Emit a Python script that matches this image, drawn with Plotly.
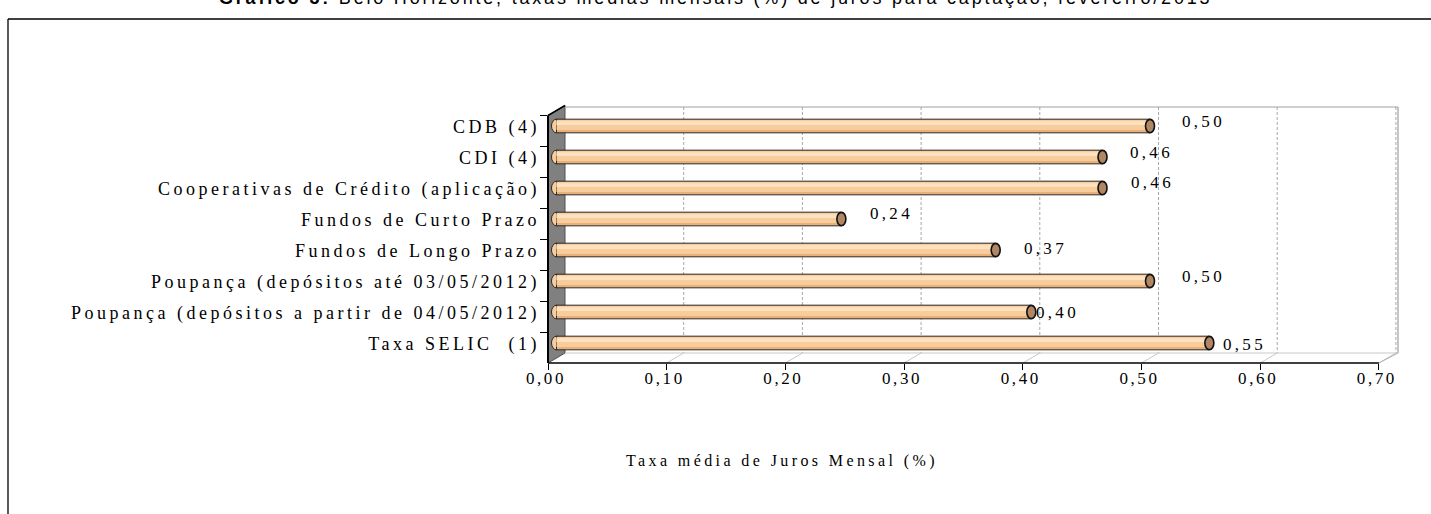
import plotly.graph_objects as go

# ---------------- data ----------------
categories = [
    "CDB (4)",
    "CDI (4)",
    "Cooperativas de Crédito (aplicação)",
    "Fundos de Curto Prazo",
    "Fundos de Longo Prazo",
    "Poupança (depósitos até 03/05/2012)",
    "Poupança (depósitos a partir de 04/05/2012)",
    "Taxa SELIC  (1)",
]
values = [0.50, 0.46, 0.46, 0.24, 0.37, 0.50, 0.40, 0.55]
value_labels = ["0,50", "0,46", "0,46", "0,24", "0,37", "0,50", "0,40", "0,55"]
x_ticks = [0.0, 0.1, 0.2, 0.3, 0.4, 0.5, 0.6, 0.7]
x_tick_labels = ["0,00", "0,10", "0,20", "0,30", "0,40", "0,50", "0,60", "0,70"]
title_bold = "Gráfico 3:"
title_rest = "Belo Horizonte, taxas médias mensais (%) de juros para captação, fevereiro/2013"
axis_title = "Taxa média de Juros Mensal (%)"

# ---------------- style / geometry ----------------
label_dx = [30, 25, 26, 27, 26, 30, 3, 12]   # px offsets of value labels (style)
label_dy = [5, 5, 6, 6, 2, 5, 0, -1]

W, H = 1431, 514
S = 1187.0            # px per unit on x
FX, FY = 548.0, 363.0  # front origin (x px, floor y px)
DX, DY = 17.0, -10.0   # depth offset front->back
ROW = 31.0             # px per category
TOP = 107.0            # top of back wall
RIGHT = 1398.0
MIDX = FX + DX / 2
BOTTOM_ROW_MID = 343.0
BOTTOM_ROW_FRONT = BOTTOM_ROW_MID - DY / 2

SERIF = "Liberation Serif, Times New Roman, serif"
SANS = "Liberation Sans, Arial, sans-serif"

BAR_DARK = "#E9B17A"
BAR_MID = "#F8CD9B"
BAR_LIGHT = "#FDE2C2"
CAP = "#B08762"


def sp(t, ls=3.3):
    return f'<span style="letter-spacing:{ls}px">{t}</span>'


def X(p):
    return p / W


def Y(p):
    return 1 - p / H


order = categories[::-1]  # bottom -> top

fig = go.Figure()

# invisible trace to populate the front category axis
fig.add_trace(go.Scatter(x=values, y=categories, mode="markers",
                         marker=dict(opacity=0), hoverinfo="skip",
                         showlegend=False, xaxis="x", yaxis="y"))

# cylinder bars (layered bars for shading)
fig.add_trace(go.Bar(x=values, y=categories, orientation="h", xaxis="x2", yaxis="y2",
                     width=0.44, offset=-0.22, base=0,
                     marker=dict(color=BAR_DARK, line=dict(color="#2a2a2a", width=1)),
                     showlegend=False, hoverinfo="skip"))
fig.add_trace(go.Bar(x=values, y=categories, orientation="h", xaxis="x2", yaxis="y2",
                     width=0.32, offset=-0.13, base=0,
                     marker=dict(color=BAR_MID, line=dict(width=0)),
                     showlegend=False, hoverinfo="skip"))
fig.add_trace(go.Bar(x=values, y=categories, orientation="h", xaxis="x2", yaxis="y2",
                     width=0.12, offset=0.03, base=0,
                     marker=dict(color=BAR_LIGHT, line=dict(width=0)),
                     showlegend=False, hoverinfo="skip"))

shapes = []


def line_shape(x0, y0, x1, y1, color, width, dash="solid", layer="below"):
    return dict(type="line", xref="paper", yref="paper", x0=X(x0), y0=Y(y0), x1=X(x1), y1=Y(y1),
                line=dict(color=color, width=width, dash=dash), layer=layer)


# left wall
front_top = BOTTOM_ROW_FRONT - ROW * (len(categories) - 0.5)
shapes.append(dict(type="path", xref="paper", yref="paper",
                   path=f"M {X(FX)},{Y(front_top)} L {X(FX+DX)},{Y(front_top+DY)} "
                        f"L {X(FX+DX)},{Y(FY+DY)} L {X(FX)},{Y(FY)} Z",
                   fillcolor="#808080", line=dict(color="#505050", width=1), layer="below"))
# back wall gridlines
for v in x_ticks[1:]:
    px = FX + DX + v * S
    shapes.append(line_shape(px, TOP, px, FY + DY, "#A8A8A8", 1, "3px,2px"))
# back wall edges
shapes.append(line_shape(FX + DX, TOP, RIGHT, TOP, "#A0A0A0", 1.2))
shapes.append(line_shape(RIGHT, TOP, RIGHT, FY + DY, "#A0A0A0", 1.2))
# floor
shapes.append(line_shape(FX + DX, FY + DY, RIGHT, FY + DY, "#C8C8C8", 1))
for v in x_ticks[1:]:
    px = FX + v * S
    shapes.append(line_shape(px, FY, px + DX, FY + DY, "#C8C8C8", 1))
xend = FX + x_ticks[-1] * S
shapes.append(line_shape(xend, FY, RIGHT, FY + DY, "#B0B0B0", 1))
# front axis lines
shapes.append(line_shape(FX, FY, xend, FY, "#000000", 1.5, layer="above"))
shapes.append(line_shape(FX, front_top, FX, FY, "#000000", 2, layer="above"))
shapes.append(line_shape(FX, front_top, FX + DX, front_top + DY, "#000000", 1.5, layer="above"))
# outer frame
shapes.append(line_shape(8, 19, W, 19, "#000000", 1.3, layer="above"))
shapes.append(line_shape(8, 19, 8, H, "#000000", 1.3, layer="above"))

# bar end caps
cap_w = 5.0 / S
for cat, v in zip(categories, values):
    k = order.index(cat)
    shapes.append(dict(type="circle", xref="x2", yref="y2",
                       x0=-cap_w, x1=cap_w, y0=k - 0.22, y1=k + 0.22,
                       fillcolor=BAR_MID, line=dict(color="#2a2a2a", width=1), layer="below"))
    shapes.append(dict(type="circle", xref="x2", yref="y2",
                       x0=v - 4.5 / S, x1=v + 4.5 / S, y0=k - 0.215, y1=k + 0.215,
                       fillcolor=CAP, line=dict(color="#111111", width=1.6), layer="above"))

annotations = []
for cat, v, lab, dx, dy in zip(categories, values, value_labels, label_dx, label_dy):
    annotations.append(dict(x=v, y=cat, xref="x2", yref="y2", text=sp(lab, 3.3),
                            showarrow=False, xanchor="left", yanchor="middle",
                            xshift=dx, yshift=dy,
                            font=dict(family=SERIF, size=17, color="#000000")))
annotations.append(dict(x=X(782), y=Y(461), xref="paper", yref="paper",
                        text=sp(axis_title, 3.4), showarrow=False,
                        xanchor="center", yanchor="middle",
                        font=dict(family=SERIF, size=16, color="#000000")))
annotations.append(dict(x=X(715), y=Y(10), xref="paper", yref="paper",
                        text=sp(f"<b>{title_bold}</b> {title_rest}", 2.8), showarrow=False,
                        xanchor="center", yanchor="bottom",
                        font=dict(family=SANS, size=18, color="#000000")))

xdom = [X(FX), X(RIGHT)]
ydom = [Y(FY), Y(TOP)]

fig.update_layout(
    template="none",
    width=W, height=H, autosize=False,
    margin=dict(l=0, r=0, t=0, b=0),
    paper_bgcolor="white", plot_bgcolor="rgba(0,0,0,0)",
    barmode="overlay", showlegend=False,
    shapes=shapes, annotations=annotations,
    xaxis=dict(domain=xdom, range=[0, (RIGHT - FX) / S], automargin=False,
               tickmode="array", tickvals=x_ticks,
               ticktext=[sp(t, 2.6) for t in x_tick_labels],
               ticks="outside", ticklen=6, tickcolor="#000000", tickwidth=1,
               ticklabelstandoff=-6, ticklabelshift=-2,
               showgrid=False, zeroline=False, showline=False,
               tickfont=dict(family=SERIF, size=17, color="#000000"),
               anchor="y", fixedrange=True),
    yaxis=dict(domain=ydom, type="category", categoryorder="array", categoryarray=order,
               range=[(BOTTOM_ROW_FRONT - FY) / ROW, (BOTTOM_ROW_FRONT - TOP) / ROW],
               automargin=False, tickmode="array", tickvals=order,
               ticktext=[sp(c, 3.5) for c in order], tickson="boundaries",
               ticks="outside", ticklen=7, tickcolor="#000000", tickwidth=1,
               ticklabelshift=-4, ticklabelstandoff=7,
               showgrid=False, zeroline=False, showline=False,
               tickfont=dict(family=SERIF, size=18, color="#000000"),
               anchor="x", fixedrange=True),
    xaxis2=dict(overlaying="x", range=[(FX - MIDX) / S, (RIGHT - MIDX) / S],
                visible=False, showgrid=False, zeroline=False, fixedrange=True),
    yaxis2=dict(overlaying="y", type="category", categoryorder="array", categoryarray=order,
                range=[(BOTTOM_ROW_MID - FY) / ROW, (BOTTOM_ROW_MID - TOP) / ROW],
                visible=False, showgrid=False, zeroline=False, fixedrange=True),
)

fig.write_html("out.html", config={"displayModeBar": False},
               post_script="document.body.style.margin='0';")
